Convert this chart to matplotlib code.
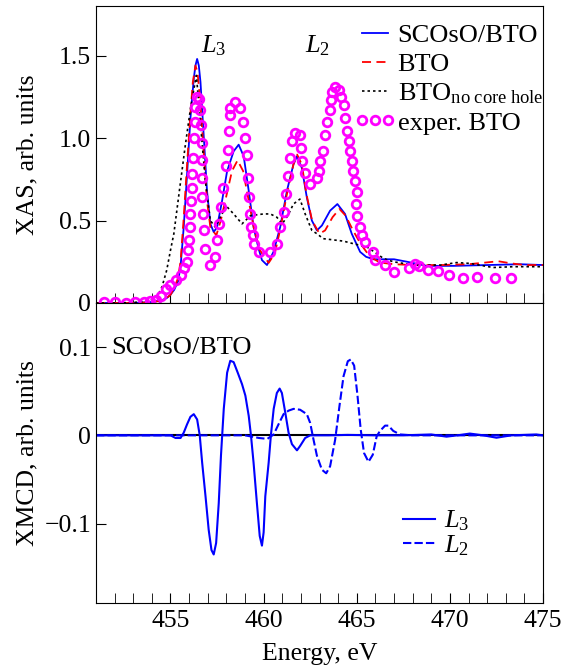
import matplotlib
matplotlib.use('Agg')
import matplotlib.pyplot as plt
from matplotlib.ticker import MultipleLocator, FuncFormatter
from matplotlib.legend_handler import HandlerLine2D

# XAS, calculated SCOsO/BTO
e_scoso = [451, 452, 453, 453.5, 454, 454.5, 454.8, 455.0, 455.2, 455.4, 455.54, 455.71, 455.89, 456.07,
           456.25, 456.34, 456.43, 456.52, 456.61, 456.78, 456.96, 457.14, 457.32, 457.50, 457.77, 458.04,
           458.39, 458.66, 458.93, 459.2, 459.46, 459.73, 459.91, 460.18, 460.53, 460.89, 461.25, 461.6,
           461.79, 462.05, 462.32, 462.59, 462.86, 463.13, 463.57, 463.96, 464.37, 464.73, 465.18, 465.5,
           465.9, 466.5, 467.0, 467.7, 468.75, 470.2, 472.0, 473.75, 475]
xas_scoso = [0.0, 0.0, 0.0, 0.003, 0.006, 0.015, 0.03, 0.05, 0.08, 0.13, 0.22, 0.46, 0.78, 1.12,
             1.36, 1.44, 1.48, 1.44, 1.34, 1.02, 0.68, 0.48, 0.43, 0.46, 0.62, 0.80,
             0.92, 0.96, 0.89, 0.68, 0.46, 0.33, 0.26, 0.23, 0.31, 0.46, 0.68, 0.84,
             0.89, 0.82, 0.64, 0.50, 0.44, 0.47, 0.56, 0.60, 0.54, 0.42, 0.31, 0.28,
             0.265, 0.265, 0.265, 0.25, 0.225, 0.225, 0.23, 0.235, 0.23]

# XAS, calculated BTO
e_bto = [451, 453, 454, 454.5, 454.8, 455.0, 455.2, 455.4, 455.54, 455.7, 455.89, 456.07, 456.2, 456.34,
         456.45, 456.6, 456.78, 456.96, 457.14, 457.46, 457.7, 458.0, 458.3, 458.6, 458.9, 459.2, 459.5,
         459.8, 460.27, 460.6, 460.9, 461.25, 461.6, 461.8, 462.05, 462.3, 462.6, 463.0, 463.3, 463.7,
         464.07, 464.4, 464.8, 465.2, 465.71, 466.25, 467, 468, 469.5, 471, 471.9, 472.6, 473.3, 474, 475]
xas_bto = [0, 0, 0.004, 0.015, 0.03, 0.05, 0.09, 0.15, 0.25, 0.50, 0.84, 1.15, 1.34, 1.44,
           1.40, 1.22, 0.92, 0.62, 0.46, 0.41, 0.50, 0.65, 0.80, 0.865, 0.80, 0.62, 0.44,
           0.32, 0.243, 0.30, 0.45, 0.66, 0.84, 0.90, 0.84, 0.66, 0.50, 0.42, 0.44, 0.52,
           0.57, 0.53, 0.44, 0.36, 0.28, 0.245, 0.235, 0.23, 0.23, 0.235, 0.245, 0.253, 0.24, 0.23, 0.23]

# XAS, BTO without core hole
e_nch = [451, 452, 453, 453.5, 454, 454.3, 454.55, 454.8, 455.0, 455.18, 455.5, 455.8, 456.1, 456.39,
         456.6, 456.87, 457.14, 457.4, 457.77, 457.98, 458.39, 458.84, 459.3, 460.0, 460.36, 460.71,
         461.0, 461.3, 461.6, 461.95, 462.23, 462.59, 462.86, 463.2, 463.57, 464.29, 464.8, 465.54,
         466.07, 466.43, 466.96, 468.04, 469.5, 470.36, 471.07, 472.32, 473.4, 475]
xas_nch = [0, 0, 0.003, 0.008, 0.02, 0.04, 0.1, 0.2, 0.32, 0.42, 0.70, 0.96, 1.20, 1.38,
           1.10, 0.74, 0.50, 0.46, 0.54, 0.59, 0.54, 0.48, 0.53, 0.54, 0.54, 0.52,
           0.48, 0.53, 0.60, 0.63, 0.54, 0.44, 0.42, 0.39, 0.385, 0.375, 0.36, 0.34,
           0.30, 0.27, 0.25, 0.23, 0.23, 0.245, 0.24, 0.215, 0.22, 0.22]

# XAS, experiment BTO
e_exp = [451.45, 452.0, 452.6, 453.1, 453.6, 453.9, 454.22, 454.5, 454.75, 455.0, 455.27, 455.54, 455.71,
         455.86, 455.93, 455.98, 456.04, 456.07, 456.11, 456.14, 456.16, 456.20, 456.25, 456.30, 456.34,
         456.43, 456.52, 456.57, 456.64, 456.68, 456.70, 456.70, 456.71, 456.72, 456.78, 456.84, 457.12,
         457.38, 457.48, 457.62, 457.71, 457.84, 457.98, 458.1, 458.15, 458.18, 458.22, 458.48, 458.75,
         458.89, 459.02, 459.11, 459.16, 459.20, 459.25, 459.32, 459.42, 459.48, 459.75, 460.36, 460.71,
         460.89, 461.07, 461.21, 461.30, 461.43, 461.52, 461.70, 461.96, 462.0, 462.05, 462.23, 462.50,
         462.86, 462.95, 463.04, 463.18, 463.30, 463.39, 463.54, 463.61, 463.66, 463.84, 464.02, 464.14,
         464.29, 464.38, 464.46, 464.57, 464.64, 464.73, 464.82, 464.93, 465.0, 464.98, 465.02, 465.18,
         465.3, 465.45, 465.86, 465.98, 466.52, 467.0, 467.82, 468.13, 468.36, 468.80, 469.34, 469.96,
         470.71, 471.48, 472.41, 473.30]
xas_exp = [0.005, 0.005, 0.0, 0.005, 0.006, 0.01, 0.02, 0.045, 0.085, 0.11, 0.14, 0.17, 0.21,
           0.25, 0.32, 0.38, 0.46, 0.54, 0.62, 0.70, 0.78, 0.88, 1.00, 1.10, 1.19,
           1.25, 1.24, 1.17, 1.08, 0.97, 0.87, 0.76, 0.64, 0.54, 0.44, 0.33, 0.23,
           0.28, 0.38, 0.48, 0.58, 0.70, 0.83, 0.93, 1.04, 1.14, 1.18, 1.22, 1.18,
           1.10, 1.00, 0.90, 0.76, 0.64, 0.54, 0.46, 0.41, 0.36, 0.31, 0.31, 0.36,
           0.46, 0.55, 0.66, 0.77, 0.88, 0.98, 1.03, 1.02, 0.94, 0.86, 0.79, 0.72,
           0.76, 0.80, 0.86, 0.92, 1.02, 1.10, 1.17, 1.23, 1.28, 1.31, 1.29, 1.25,
           1.20, 1.12, 1.04, 0.98, 0.92, 0.86, 0.80, 0.74, 0.67, 0.60, 0.53, 0.46,
           0.41, 0.37, 0.31, 0.26, 0.23, 0.19, 0.215, 0.235, 0.225, 0.20, 0.195, 0.17,
           0.15, 0.16, 0.15, 0.15]

# XMCD, L3 edge
e_l3 = [451, 455.0, 455.27, 455.54, 455.71, 455.89, 456.07, 456.25, 456.43, 456.57, 456.7, 456.88, 457.05,
        457.2, 457.32, 457.45, 457.59, 457.71, 457.86, 458.04, 458.21, 458.39, 458.61, 458.84, 459.02,
        459.2, 459.32, 459.46, 459.64, 459.79, 459.91, 460.0, 460.09, 460.27, 460.39, 460.54, 460.71,
        460.86, 460.98, 461.16, 461.34, 461.52, 461.79, 461.96, 462.23, 462.5, 463.5, 464.5, 466, 467.5,
        469, 469.82, 470.4, 471.07, 471.8, 472.5, 473.3, 474.64, 475]
xmcd_l3 = [0, 0, -0.003, -0.003, 0.003, 0.0125, 0.021, 0.024, 0.018, 0.0, -0.031, -0.069, -0.107,
           -0.13, -0.135, -0.122, -0.077, -0.023, 0.030, 0.071, 0.0845, 0.083, 0.071, 0.058, 0.045,
           0.022, 0.0, -0.031, -0.077, -0.114, -0.125, -0.11, -0.069, -0.031, 0.0, 0.030, 0.048,
           0.053, 0.048, 0.026, 0.003, -0.010, -0.017, -0.012, -0.003, 0.0, 0.0, 0.0005, 0.0, 0.0,
           0.001, -0.0015, 0.0, 0.002, 0.0, -0.0027, 0.0, 0.001, 0.0]

# XMCD, L2 edge
e_l2 = [451, 459.0, 459.75, 460.2, 460.54, 460.8, 461.07, 461.34, 461.61, 461.96, 462.32, 462.5, 462.68,
        462.86, 463.13, 463.36, 463.57, 463.84, 464.07, 464.29, 464.52, 464.68, 464.86, 465.04, 465.21,
        465.39, 465.63, 465.86, 466.07, 466.25, 466.52, 466.70, 466.96, 467.32, 468, 470, 472, 475]
xmcd_l2 = [0, 0, -0.003, -0.004, 0.001, 0.0125, 0.024, 0.028, 0.030, 0.029, 0.024, 0.014, -0.005,
           -0.023, -0.039, -0.043, -0.035, -0.005, 0.033, 0.067, 0.084, 0.086, 0.079, 0.045, 0.007,
           -0.020, -0.030, -0.022, -0.001, 0.005, 0.011, 0.011, 0.005, 0.001, 0.0, 0.0, 0.0, 0.0]

plt.rcParams['font.family'] = 'Liberation Serif'
plt.rcParams['mathtext.fontset'] = 'custom'
plt.rcParams['mathtext.rm'] = 'Liberation Serif'
plt.rcParams['mathtext.it'] = 'Liberation Serif:italic'
plt.rcParams['font.size'] = 18.5

fig = plt.figure(figsize=(5.63, 6.70), dpi=100)
ax1 = fig.add_axes([0.1705, 0.5478, 0.794, 0.443])
ax2 = fig.add_axes([0.1705, 0.100, 0.794, 0.4478])


def fmt(v, pos):
    if abs(v) < 1e-9:
        return '0'
    s = '%g' % abs(v) if abs(v) < 0.5 else '%.1f' % abs(v)
    return ('\u2212' + s) if v < 0 else s


ax1.plot(e_scoso, xas_scoso, color='#0000ff', lw=1.3, label='SCOsO/BTO')
ax1.plot(e_bto, xas_bto, color='#ff0000', lw=1.3, ls=(0, (5, 3)), label='BTO')
ax1.plot(e_nch, xas_nch, color='k', lw=1.2, ls=(0, (1.5, 1.8)), label=r'BTO$_{\rm no\ core\ hole}$')
exp_line, = ax1.plot(e_exp, xas_exp, ls='none', marker='o', ms=6.2, mfc='none', mec='#ff00ff', mew=2.0,
                     label='exper. BTO')

ax1.set_xlim(451, 475)
ax1.set_ylim(0, 1.8)
ax1.yaxis.set_major_locator(MultipleLocator(0.5))
ax1.yaxis.set_major_formatter(FuncFormatter(fmt))
ax1.xaxis.set_major_locator(MultipleLocator(5))
ax1.xaxis.set_minor_locator(MultipleLocator(1))
ax1.tick_params(axis='x', which='both', direction='in', length=7, labelbottom=False)
ax1.tick_params(axis='y', direction='in', length=7)
ax1.set_ylabel('XAS, arb. units')
ax1.yaxis.set_label_coords(-0.128, 0.5)
ax1.text(457.3, 1.56, r'$L_3$', ha='center', va='center', fontsize=19)
ax1.text(462.9, 1.56, r'$L_2$', ha='center', va='center', fontsize=19)
ax1.legend(loc='center left', bbox_to_anchor=(0.595, 0.754), frameon=False, borderpad=0,
           borderaxespad=0, handlelength=1.0, handletextpad=0.35, labelspacing=0.2, numpoints=1,
           fontsize=19, handler_map={exp_line: HandlerLine2D(marker_pad=0, numpoints=3)})

ax2.axhline(0, color='k', lw=1.5)
ax2.plot(e_l3, xmcd_l3, color='#0000ff', lw=1.5, label=r'$L_3$')
ax2.plot(e_l2, xmcd_l2, color='#0000ff', lw=1.5, ls=(0, (4, 1.5)), label=r'$L_2$')
ax2.set_xlim(451, 475)
ax2.set_ylim(-0.19, 0.15)
ax2.yaxis.set_major_locator(MultipleLocator(0.1))
ax2.yaxis.set_major_formatter(FuncFormatter(fmt))
ax2.xaxis.set_major_locator(MultipleLocator(5))
ax2.xaxis.set_minor_locator(MultipleLocator(1))
ax2.tick_params(axis='x', which='both', direction='in', length=7, pad=5)
ax2.tick_params(axis='y', direction='in', length=7)
ax2.set_ylabel('XMCD, arb. units')
ax2.yaxis.set_label_coords(-0.128, 0.5)
ax2.set_xlabel('Energy, eV', labelpad=8)
ax2.text(451.8, 0.099, 'SCOsO/BTO', ha='left', va='center', fontsize=19)
ax2.legend(loc='center left', bbox_to_anchor=(0.687, 0.232), frameon=False, borderpad=0,
           borderaxespad=0, handlelength=1.2, handletextpad=0.35, labelspacing=0.0, fontsize=19)

fig.savefig('out.png', dpi=100)
